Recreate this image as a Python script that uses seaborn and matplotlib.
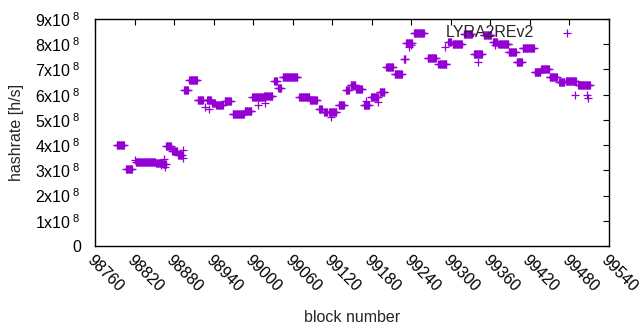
import numpy as np
import pandas as pd
import matplotlib
matplotlib.use("Agg")
import matplotlib.pyplot as plt
import seaborn as sns

# ── data ──────────────────────────────────────────────────────────────────────
# runs of consecutive blocks that share one hashrate estimate (units of 1e8 h/s)
run_start = [98793, 98807, 98822, 98852, 98863, 98868, 98877, 98886, 98895, 98903,
             98916, 98930, 98938, 98944, 98957, 98969, 98987, 98999, 99017, 99024,
             99032, 99038, 99045, 99070, 99086, 99100, 99108, 99115, 99130, 99141,
             99148, 99156, 99168, 99179, 99192, 99202, 99215, 99229, 99232, 99244,
             99265, 99281, 99296, 99303, 99320, 99335, 99350, 99364, 99372, 99388,
             99400, 99409, 99427, 99437, 99450, 99464, 99475, 99493]
run_end   = [98804, 98816, 98851, 98862, 98867, 98875, 98884, 98892, 98901, 98915,
             98924, 98936, 98942, 98954, 98966, 98986, 98997, 99016, 99022, 99029,
             99036, 99042, 99067, 99085, 99097, 99104, 99112, 99126, 99138, 99145,
             99155, 99165, 99176, 99188, 99199, 99212, 99226, 99231, 99241, 99259,
             99277, 99293, 99300, 99317, 99332, 99347, 99361, 99370, 99387, 99399,
             99408, 99426, 99436, 99449, 99461, 99472, 99490, 99511]
run_rate  = [4.00, 3.07, 3.33, 3.28, 3.25, 3.97, 3.75, 3.60, 6.20, 6.60,
             5.80, 5.78, 5.65, 5.60, 5.75, 5.25, 5.35, 5.90, 5.95, 5.95,
             6.55, 6.25, 6.70, 5.90, 5.80, 5.45, 5.30, 5.30, 5.60, 6.20,
             6.40, 6.22, 5.60, 5.90, 6.10, 7.10, 6.80, 7.40, 8.05, 8.45,
             7.45, 7.20, 8.10, 8.00, 8.40, 7.60, 8.35, 8.10, 8.02, 7.70,
             7.30, 7.85, 6.90, 7.00, 6.70, 6.50, 6.55, 6.40]

# single stray blocks off their run
stray_block = [98821, 98860, 98865, 98866, 98893, 98894, 98927, 98933, 99007, 99018,
               99118, 99172, 99189, 99190, 99236, 99240, 99291, 99341, 99367, 99488,
               99507, 99508]
stray_rate  = [3.40, 3.20, 3.45, 3.15, 3.80, 3.50, 5.50, 5.45, 5.60, 5.65,
               5.10, 5.75, 5.90, 5.70, 7.88, 7.95, 7.90, 7.30, 7.95, 6.00,
               6.00, 5.85]

series_name = "LYRA2REv2"
x_ticks = [98760, 98820, 98880, 98940, 99000, 99060, 99120, 99180,
           99240, 99300, 99360, 99420, 99480, 99540]
y_ticks = [0, 1e8, 2e8, 3e8, 4e8, 5e8, 6e8, 7e8, 8e8, 9e8]
y_labels = ["0"] + [rf"{i}x10$^{{\ 8}}$" for i in range(1, 10)]

blocks = np.concatenate([np.arange(s, e + 1) for s, e in zip(run_start, run_end)] + [stray_block])
rates = np.concatenate([np.full(e - s + 1, r) for s, e, r in zip(run_start, run_end, run_rate)]
                       + [stray_rate]) * 1e8
df = pd.DataFrame({"block": blocks, "rate": rates})

# ── plot ──────────────────────────────────────────────────────────────────────
sns.set_style("white")
plt.rcParams["font.family"] = ["Liberation Sans", "DejaVu Sans"]
plt.rcParams["mathtext.fontset"] = "custom"
plt.rcParams["mathtext.rm"] = "Liberation Sans"
plt.rcParams["mathtext.it"] = "Liberation Sans"

fs = 11.5
fig, ax = plt.subplots(figsize=(6.4, 3.3), dpi=100)
fig.subplots_adjust(left=95 / 640, right=609 / 640, bottom=84 / 330, top=311 / 330)

sns.scatterplot(data=df, x="block", y="rate", marker="+", s=38, linewidth=0.9,
                color="#9400D3", label=series_name, ax=ax)

ax.set_xlim(98760, 99540)
ax.set_ylim(0, 9e8)
ax.set_xticks(x_ticks)
ax.set_xticklabels([str(t) for t in x_ticks], rotation=-45, ha="left", va="top",
                   rotation_mode="anchor", fontsize=fs)
ax.set_yticks(y_ticks)
ax.set_yticklabels(y_labels, fontsize=fs)
ax.tick_params(axis="both", direction="in", length=4, width=0.8, top=True, right=True,
               colors="black")
ax.tick_params(axis="y", pad=10)
ax.tick_params(axis="x", pad=5)
for sp in ax.spines.values():
    sp.set_visible(True); sp.set_color("black"); sp.set_linewidth(1)

ax.set_xlabel("block number", fontsize=fs)
ax.xaxis.set_label_coords(0.5, -0.28)
ax.set_ylabel("hashrate [h/s]", fontsize=fs)
ax.yaxis.set_label_coords(-0.138, 0.5)

ax.legend(loc="upper right", bbox_to_anchor=(591 / 640, 0.947), bbox_transform=fig.transFigure,
          frameon=False, markerfirst=False, handlelength=2, handletextpad=1.1,
          borderpad=0, fontsize=fs)

plt.savefig("out.png", dpi=100)
